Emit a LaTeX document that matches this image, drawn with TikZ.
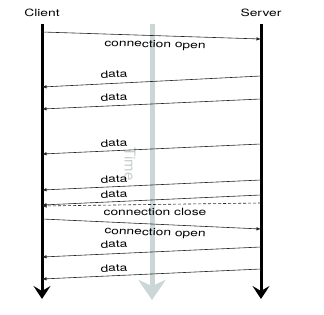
\documentclass[tikz,border=0pt]{standalone}
\usepackage{fontspec}
\setmainfont{TeX Gyre Heros}
\usetikzlibrary{arrows.meta}
\definecolor{timebar}{HTML}{CBD6D6}
\definecolor{timetext}{HTML}{C6CDCD}
\tikzset{
  lifeline/.style={line width=3pt, -{Stealth[length=13pt,width=17pt,inset=5pt]}},
  timeline/.style={line width=5pt, draw=timebar, -{Stealth[length=20pt,width=27pt,inset=6pt]}},
  msg/.style={line width=0.6pt, draw=black!85, -{Latex[length=4.5pt,width=3.5pt]}},
  msgdash/.style={msg, dashed, dash pattern=on 3pt off 2pt},
  lbl/.style={font=\fontsize{10}{12}\selectfont, inner sep=0pt, xscale=1.38},
  actor/.style={lbl}
}
\begin{document}
\begin{tikzpicture}[x=1pt,y=1pt]
\useasboundingbox (0,0) rectangle (324,314);
% actors
\node[actor] (client) at (42,301) {Client};
\node[actor] (server) at (261,301) {Server};
% lifeline endpoints
\coordinate (ct) at (42,290);
\coordinate (cb) at (42,15);
\coordinate (st) at (261,290);
\coordinate (sb) at (261,15);
\coordinate (tt) at (152,290);
\coordinate (tb) at (152,14);
% time bar
\draw[timeline] (tt) -- (tb);
\node[font=\fontsize{15}{18}\selectfont, inner sep=0pt, text=timetext, rotate=-90] (time) at (130,150) {Time};
% lifelines
\draw[lifeline] (ct) -- (cb);
\draw[lifeline] (st) -- (sb);
% messages (y = 314 - pixel row)
\coordinate (c1) at (42,282); \coordinate (s1) at (261,275);
\coordinate (s2) at (261,238); \coordinate (c2) at (42,227);
\coordinate (s3) at (261,215); \coordinate (c3) at (42,205);
\coordinate (s4) at (261,170); \coordinate (c4) at (42,160);
\coordinate (s5) at (261,134); \coordinate (c5) at (42,124);
\coordinate (s6) at (261,119); \coordinate (c6) at (42,109);
\coordinate (s7) at (261,111); \coordinate (c7) at (42,108);
\coordinate (c8) at (42,95);  \coordinate (s8) at (261,85);
\coordinate (s9) at (261,67); \coordinate (c9) at (42,57);
\coordinate (s10) at (261,45); \coordinate (c10) at (42,35);
\draw[msg] (c1) -- (s1);
\draw[msg] (s2) -- (c2);
\draw[msg] (s3) -- (c3);
\draw[msg] (s4) -- (c4);
\draw[msg] (s5) -- (c5);
\draw[msg] (s6) -- (c6);
\draw[msgdash] (s7) -- (c7);
\draw[msg] (c8) -- (s8);
\draw[msg] (s9) -- (c9);
\draw[msg] (s10) -- (c10);
% labels
\node[lbl, rotate=-1.8] (l1) at (155,269) {connection open};
\node[lbl, rotate=2.6] (l2) at (114,240) {data};
\node[lbl, rotate=2.6] (l3) at (114,217) {data};
\node[lbl, rotate=2.6] (l4) at (114,171) {data};
\node[lbl, rotate=2.6] (l5) at (114,135) {data};
\node[lbl, rotate=2.6] (l6) at (114,120) {data};
\node[lbl] (l7) at (155,102) {connection close};
\node[lbl, rotate=-2.6] (l8) at (155,81) {connection open};
\node[lbl, rotate=2.6] (l9) at (114,70) {data};
\node[lbl, rotate=2.6] (l10) at (114,46) {data};
\end{tikzpicture}
\end{document}
